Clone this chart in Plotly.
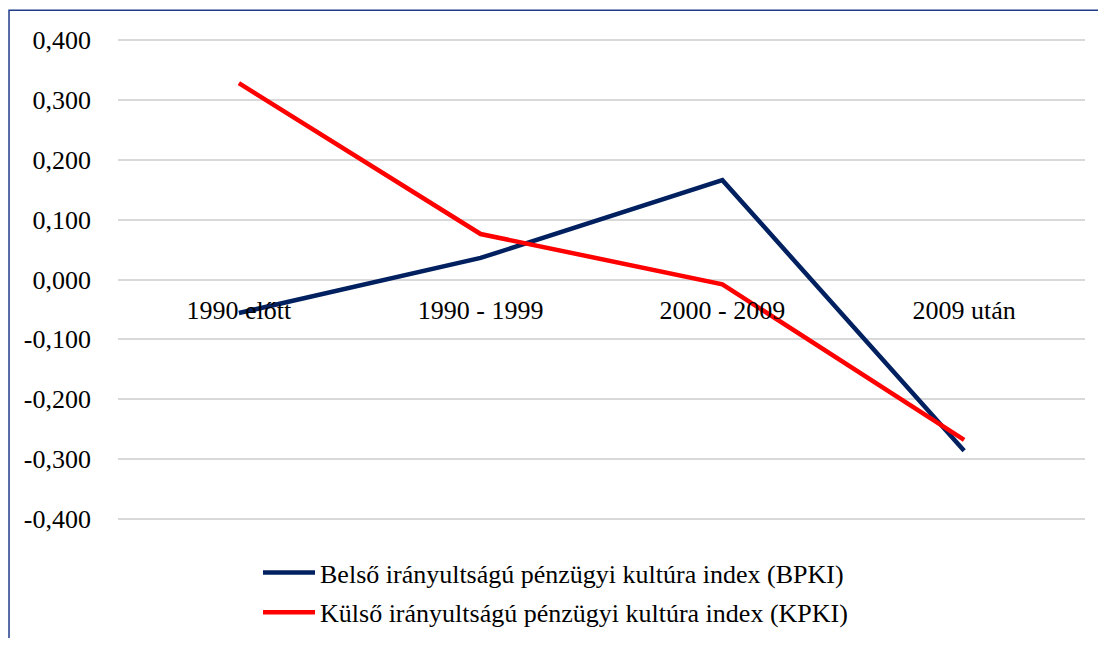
import plotly.graph_objects as go

categories = ["1990 előtt", "1990 - 1999", "2000 - 2009", "2009 után"]
bpki = [-0.056, 0.036, 0.166, -0.286]
kpki = [0.328, 0.076, -0.008, -0.268]
tick_vals = [0.4, 0.3, 0.2, 0.1, 0.0, -0.1, -0.2, -0.3, -0.4]
tick_text = ["0,400", "0,300", "0,200", "0,100", "0,000", "-0,100", "-0,200", "-0,300", "-0,400"]

FONT = "Liberation Serif"

fig = go.Figure()
fig.add_trace(go.Scatter(x=categories, y=bpki, mode="lines", legendgroup="a",
                         name="Belső irányultságú pénzügyi kultúra index (BPKI)",
                         line=dict(color="#002060", width=4.5)))
fig.add_trace(go.Scatter(x=categories, y=kpki, mode="lines", legendgroup="b",
                         name="Külső irányultságú pénzügyi kultúra index (KPKI)",
                         line=dict(color="#FF0000", width=4.5)))

fig.update_layout(
    width=1090, height=630,
    margin=dict(l=110, r=13, t=30, b=117, autoexpand=False),
    paper_bgcolor="white", plot_bgcolor="white",
    font=dict(family=FONT, size=26, color="black"),
    showlegend=True,
    legend=dict(orientation="v", x=0.1448, xanchor="left", y=-0.058, yanchor="top",
                font=dict(family=FONT, size=26), itemwidth=52, tracegroupgap=3),
    xaxis=dict(type="category", range=[-0.5, 3.5], anchor="free", position=0.5,
               showgrid=False, showline=False, zeroline=False, ticks="",
               ticklabelstandoff=12, automargin=False,
               tickfont=dict(family=FONT, size=26)),
    yaxis=dict(range=[-0.4035, 0.4035], tickvals=tick_vals, ticktext=tick_text,
               showgrid=True, gridcolor="#d9d9d9", gridwidth=1.5,
               zeroline=False, showline=False, ticks="", ticklabelstandoff=26,
               automargin=False, tickfont=dict(family=FONT, size=26)),
    shapes=[dict(type="rect", xref="paper", yref="paper",
                 x0=-0.1127, x1=1.05, y0=-0.5, y1=1.0575,
                 line=dict(color="#1F3C88", width=1.5), layer="below")],
)

fig.write_html("out.html")
